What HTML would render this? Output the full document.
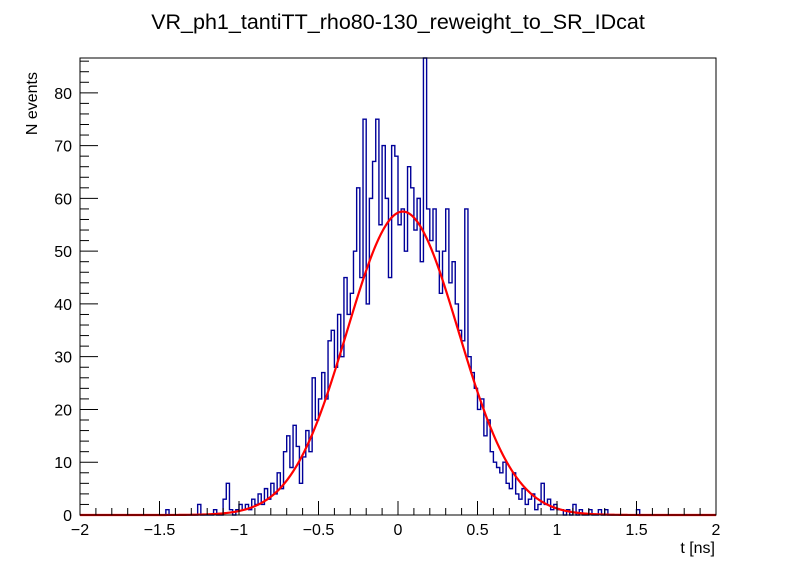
<!DOCTYPE html>
<html><head><meta charset="utf-8"><style>
body{margin:0;background:#fff}
svg text{font-family:"Liberation Sans",sans-serif}
</style></head><body>
<svg id="chart" width="796" height="572" viewBox="0 0 796 572" xmlns="http://www.w3.org/2000/svg">
<rect width="796" height="572" fill="#fff"/>
<text x="398" y="29" font-size="21.5" text-anchor="middle">VR_ph1_tantiTT_rho80-130_reweight_to_SR_IDcat</text>
<g id="plot"></g>
<text transform="translate(37,72) rotate(-90)" font-size="16" text-anchor="end">N events</text>
<text x="715" y="553" font-size="16" text-anchor="end">t [ns]</text>
</svg>
<script>
const binStart=-1.46;
const binWidth=0.02;
const counts=[1,0,0,0,0,0,0,0,0,0,
2,0,0,0,0,1,0,0,3,6,1,0,1,2,1,2,1,3,2,4,2,5,3,6,4,8,5,12,15,9,17,13,6,11,16,12,26,18,22,27,22,33,35,28,38,30,45,38,42,50,62,45,75,40,60,67,75,55,70,60,45,70,68,55,58,50,66,62,54,60,48,87,58,52,58,50,42,50,58,44,48,40,35,33,58,30,27,24,20,22,15,18,12,10,9,8,10,6,5,8,4,3,5,2,3,4,1,2,6,2,3,1,2,1,1,0,1,0,2,0,1,0,0,1,0,0,1,0,1,0,0,0,0,0,0,0,0,0,1];
const fitConst=57.5, fitMean=0.03, fitSigma=0.35;
const xTicks=[-2,-1.5,-1,-0.5,0,0.5,1,1.5,2];
const xTickLabels=["−2","−1.5","−1","−0.5","0","0.5","1","1.5","2"];
const yTicks=[0,10,20,30,40,50,60,70,80];
const yTickLabels=["0","10","20","30","40","50","60","70","80"];

const L=80,R=716,T=58,B=515,xmin=-2,xmax=2,ymin=0,ymax=86.6;
const X=v=>L+(v-xmin)/(xmax-xmin)*(R-L);
const Y=v=>B-(v-ymin)/(ymax-ymin)*(B-T);
const NS='http://www.w3.org/2000/svg';
const g=document.getElementById('plot');
function mk(tag,attrs){const e=document.createElementNS(NS,tag);for(const k in attrs)e.setAttribute(k,attrs[k]);g.appendChild(e);return e;}

let d='M'+X(xmin)+','+Y(0)+' L'+X(binStart)+','+Y(0);
for(let i=0;i<counts.length;i++){
  const x0=X(binStart+i*binWidth),x1=X(binStart+(i+1)*binWidth),y=Y(Math.min(counts[i],ymax));
  d+=' L'+x0+','+y+' L'+x1+','+y;
}
d+=' L'+X(binStart+counts.length*binWidth)+','+Y(0)+' L'+X(xmax)+','+Y(0);
const h=mk('path',{d:d,fill:'none',stroke:'#000099','stroke-width':1.4});



let fd='';
for(let px=L;px<=R;px+=1){
  const t=xmin+(px-L)/(R-L)*(xmax-xmin);
  const v=fitConst*Math.exp(-0.5*Math.pow((t-fitMean)/fitSigma,2));
  fd+=(fd?' L':'M')+px+','+Y(v);
}
const f=mk('path',{d:fd,fill:'none',stroke:'#ff0000','stroke-width':2.2});



const fr=mk('rect',{x:L,y:T,width:R-L,height:B-T,fill:'none',stroke:'#000','stroke-width':1});



for(let k=0;k<=40;k++){
  const v=xmin+k*0.1;const major=k%5===0;
  mk('line',{x1:X(v),x2:X(v),y1:B,y2:B-(major?14:7),stroke:'#000','stroke-width':1});
}
xTicks.forEach((v,i)=>{
  const t=mk('text',{x:X(v),y:B+20,'font-size':16,'text-anchor':'middle'});
  
  
  t.textContent=xTickLabels[i];
});
for(let v=0;v<=ymax;v+=2){
  const major=v%10===0;
  mk('line',{x1:L,x2:L+(major?18:9),y1:Y(v),y2:Y(v),stroke:'#000','stroke-width':1});
}
yTicks.forEach((v,i)=>{
  const t=mk('text',{x:L-8,y:Y(v)+6,'font-size':16,'text-anchor':'end'});
  
  
  t.textContent=yTickLabels[i];
});
</script>
</body></html>
